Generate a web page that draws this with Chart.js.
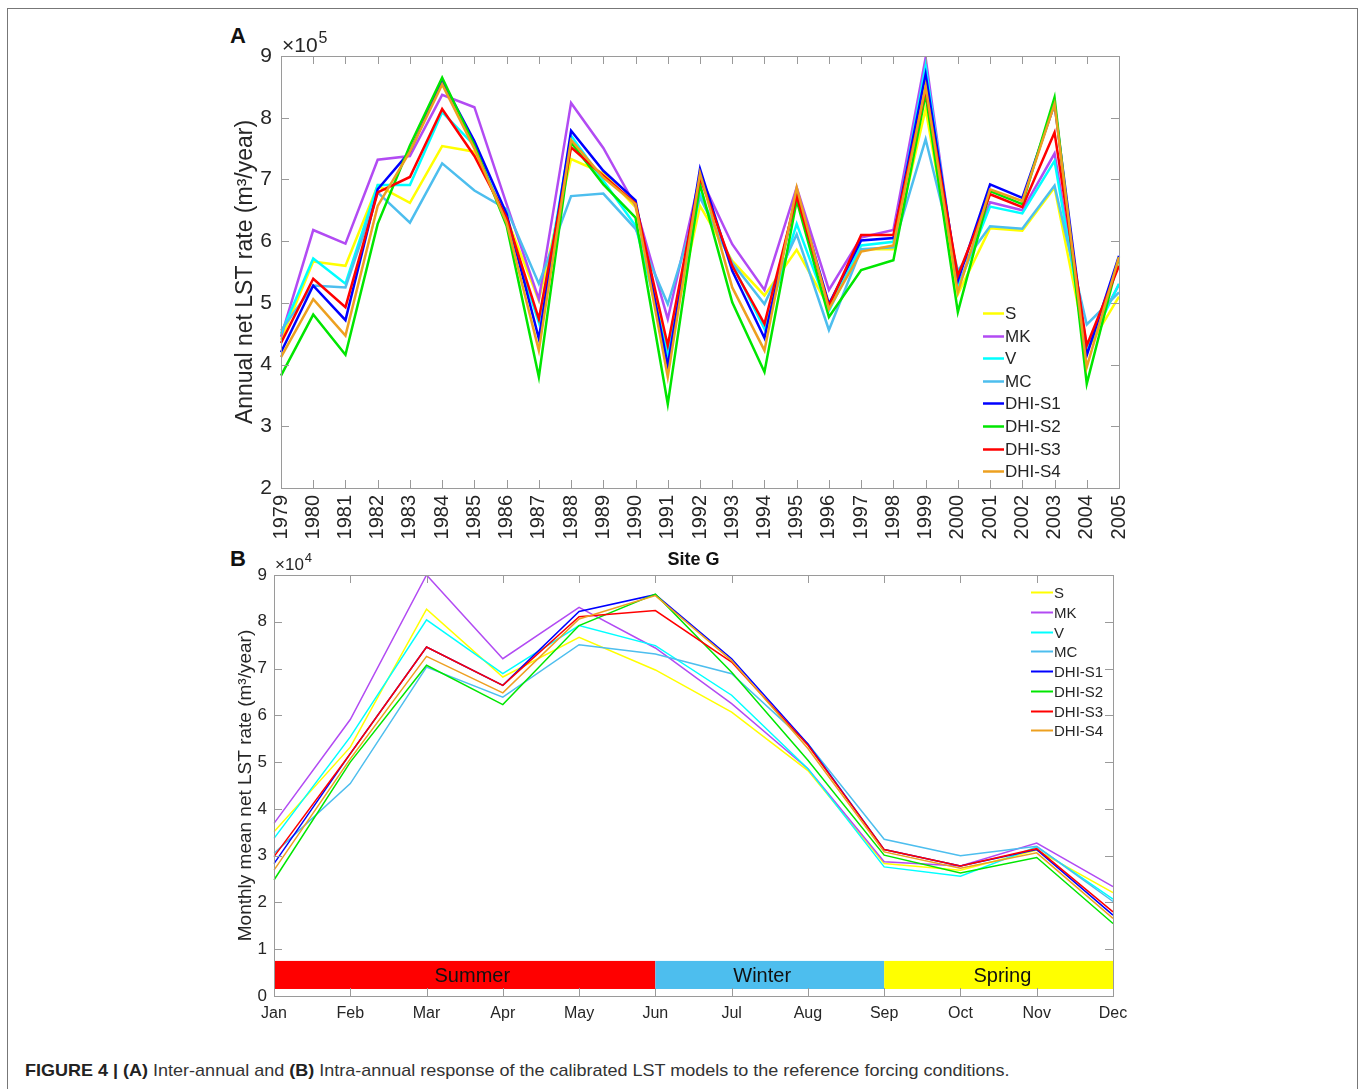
<!DOCTYPE html>
<html>
<head>
<meta charset="utf-8">
<title>Figure 4</title>
<script src="https://cdn.jsdelivr.net/npm/chart.js@4.4.0/dist/chart.umd.min.js"></script>
<style>
  body { margin: 0; background: #fff; width: 1360px; height: 1089px; overflow: hidden; position: relative;
         font-family: "Liberation Sans", Arial, sans-serif; }
  #frame { position: absolute; left: 7px; top: 8px; width: 1349px; height: 1110px; border: 1px solid #777; }
  canvas { position: absolute; }
  #chartA { left: 180px; top: 20px; }
  #chartB { left: 180px; top: 545px; }
  .panel { position: absolute; font-weight: bold; font-size: 22px; color: #111; }
  #caption { position: absolute; left: 25px; top: 1061px; font-size: 17px; color: #333; white-space: nowrap;
             font-family: "Liberation Sans Narrow", "Liberation Sans", Arial, sans-serif; transform-origin: 0 50%; }
  #caption b { color: #222; }
</style>
</head>
<body>
<div id="frame"></div>
<div class="panel" style="left:230px; top:23px;">A</div>
<div class="panel" style="left:230px; top:546px;">B</div>
<canvas id="chartA" width="960" height="540"></canvas>
<canvas id="chartB" width="960" height="505"></canvas>
<div id="caption"><b>FIGURE 4 | (A)</b> Inter-annual and <b>(B)</b> Intra-annual response of the calibrated LST models to the reference forcing conditions.</div>
<script>
const FONT = '"Liberation Sans", Arial, sans-serif';
const TEXT = '#262626';

const years = ['1979','1980','1981','1982','1983','1984','1985','1986','1987','1988','1989','1990','1991',
  '1992','1993','1994','1995','1996','1997','1998','1999','2000','2001','2002','2003','2004','2005'];
const months = ['Jan','Feb','Mar','Apr','May','Jun','Jul','Aug','Sep','Oct','Nov','Dec'];

const modelNames = ['S', 'MK', 'V', 'MC', 'DHI-S1', 'DHI-S2', 'DHI-S3', 'DHI-S4'];
const modelColors = ['#ffff00', '#b24bf3', '#00ffff', '#4dbeee', '#0000ff', '#00e600', '#ff0000', '#eda020'];

// (A) annual net LST rate, x10^5 m3/year
const annualS  = [4.40,5.67,5.60,6.90,6.62,7.54,7.45,6.38,5.04,7.33,7.10,6.55,4.17,6.57,5.68,5.12,5.86,4.93,5.87,5.87,8.14,5.14,6.21,6.17,6.87,4.23,5.10];
const annualMK = [4.45,6.18,5.96,7.32,7.38,8.37,8.17,6.60,5.06,8.24,7.51,6.57,4.74,7.05,5.95,5.21,6.87,5.21,6.06,6.18,8.97,5.25,6.63,6.50,7.42,4.30,5.30];
const annualV  = [4.50,5.72,5.31,6.91,6.91,8.09,7.55,6.30,4.68,7.71,6.98,6.25,4.17,6.76,5.63,4.58,6.28,4.87,5.93,5.99,8.84,5.25,6.56,6.45,7.30,4.23,5.31];
const annualMC = [4.55,5.28,5.25,6.79,6.30,7.26,6.82,6.52,5.31,6.73,6.77,6.20,4.98,6.71,5.65,4.98,6.11,4.56,5.87,5.90,7.65,5.52,6.24,6.20,6.90,4.65,5.17];
const annualS1 = [4.20,5.28,4.72,6.84,7.45,8.60,7.62,6.44,4.42,7.79,7.14,6.66,3.98,7.17,5.52,4.43,6.79,4.98,6.01,6.05,8.70,5.36,6.92,6.70,8.22,4.15,5.76];
const annualS2 = [3.82,4.81,4.16,6.28,7.55,8.65,7.55,6.25,3.80,7.60,6.92,6.38,3.36,6.92,5.01,3.88,6.66,4.77,5.53,5.69,8.38,4.85,6.81,6.60,8.33,3.69,5.74];
const annualS3 = [4.35,5.39,4.93,6.79,7.04,8.14,7.38,6.38,4.74,7.52,7.06,6.61,4.31,7.03,5.60,4.66,6.73,4.95,6.10,6.10,8.46,5.44,6.76,6.55,7.76,4.31,5.60];
const annualS4 = [4.12,5.06,4.47,6.57,7.45,8.54,7.50,6.30,4.23,7.64,7.03,6.60,3.80,7.10,5.25,4.23,6.87,4.90,5.83,5.93,8.51,5.17,6.84,6.65,8.22,3.96,5.74];

// (B) monthly mean net LST rate, x10^4 m3/year
const monthlyS  = [3.51,5.32,8.27,6.82,7.67,6.97,6.07,4.82,2.83,2.69,3.12,2.21];
const monthlyMK = [3.69,5.91,9.00,7.21,8.31,7.44,6.25,4.86,2.87,2.78,3.27,2.34];
const monthlyV  = [3.37,5.54,8.04,6.89,7.92,7.49,6.43,4.86,2.76,2.56,3.19,2.07];
const monthlyMC = [3.05,4.54,7.03,6.39,7.51,7.31,6.89,5.39,3.35,3.00,3.20,2.02];
const monthlyS1 = [2.83,5.18,7.46,6.64,8.22,8.58,7.21,5.39,3.13,2.78,3.13,1.73];
const monthlyS2 = [2.48,5.00,7.07,6.23,7.92,8.59,6.92,5.04,3.01,2.63,2.96,1.55];
const monthlyS3 = [2.98,5.18,7.46,6.64,8.11,8.24,7.14,5.36,3.13,2.78,3.15,1.80];
const monthlyS4 = [2.69,5.07,7.26,6.48,8.06,8.56,7.17,5.29,3.08,2.73,3.06,1.66];

// season bands along the bottom of (B)
const seasonNames  = ['Summer', 'Winter', 'Spring'];
const seasonStart  = ['Jan', 'Jun', 'Sep'];
const seasonEnd    = ['Jun', 'Sep', 'Dec'];
const seasonLabelAt = [2.6, 6.4, 9.55];   // month index where the text sits
const seasonColors = ['#ff0000', '#4dbeee', '#ffff00'];
const seasonLow = 0.15, seasonHigh = 0.75;

function makeDatasets(series, width) {
  return series.map((d, i) => ({
    label: modelNames[i],
    data: d,
    borderColor: modelColors[i],
    backgroundColor: modelColors[i],
    borderWidth: width,
    pointRadius: 0,
    tension: 0,
    order: series.length - i   // later series on top, like matlab
  }));
}

function drawExponent(ctx, x, y, exp, size) {
  ctx.fillStyle = TEXT;
  ctx.textAlign = 'left';
  ctx.textBaseline = 'alphabetic';
  ctx.font = size + 'px ' + FONT;
  ctx.fillText('\u00d710', x, y);
  const w = ctx.measureText('\u00d710').width;
  ctx.font = Math.round(size * 0.78) + 'px ' + FONT;
  ctx.fillText(exp, x + w + 1, y - size * 0.45);
}

// matlab-ish box: frame, inward ticks, labels, legend
const boxPlugin = {
  id: 'box',
  beforeDatasetsDraw(chart, args, o) {
    if (!o.seasons) return;
    const ctx = chart.ctx, x = chart.scales.x, y = chart.scales.y;
    ctx.save();
    seasonNames.forEach((name, i) => {
      const x0 = x.getPixelForValue(months.indexOf(seasonStart[i]));
      const x1 = x.getPixelForValue(months.indexOf(seasonEnd[i]));
      const y0 = y.getPixelForValue(seasonHigh);
      const y1 = y.getPixelForValue(seasonLow);
      ctx.fillStyle = seasonColors[i];
      ctx.fillRect(x0, y0, x1 - x0, y1 - y0);
      ctx.fillStyle = '#111';
      ctx.font = '20px ' + FONT;
      ctx.textAlign = 'center';
      ctx.textBaseline = 'middle';
      ctx.fillText(name, x.getPixelForValue(seasonLabelAt[i]), (y0 + y1) / 2 + 2);
    });
    ctx.restore();
  },
  afterDatasetsDraw(chart, args, o) {
    const ctx = chart.ctx, a = chart.chartArea;
    const xs = chart.scales.x, ys = chart.scales.y;
    ctx.save();
    ctx.strokeStyle = '#9a9a9a';
    ctx.lineWidth = 1;
    ctx.beginPath();
    xs.ticks.forEach((t, i) => {
      const px = Math.round(xs.getPixelForTick(i)) + 0.5;
      ctx.moveTo(px, a.bottom); ctx.lineTo(px, a.bottom - 8);
      ctx.moveTo(px, a.top); ctx.lineTo(px, a.top + 8);
    });
    ys.ticks.forEach(t => {
      const py = Math.round(ys.getPixelForValue(t.value)) + 0.5;
      ctx.moveTo(a.left, py); ctx.lineTo(a.left + 8, py);
      ctx.moveTo(a.right, py); ctx.lineTo(a.right - 8, py);
    });
    ctx.stroke();
    ctx.strokeRect(Math.round(a.left) + 0.5, Math.round(a.top) + 0.5, Math.round(a.right - a.left), Math.round(a.bottom - a.top));

    drawExponent(ctx, a.left + 1, a.top - o.expDy, o.exp, o.expSize);

    // y axis title
    ctx.fillStyle = TEXT;
    ctx.font = o.yTitleSize + 'px ' + FONT;
    ctx.textAlign = 'center';
    ctx.textBaseline = 'middle';
    ctx.save();
    ctx.translate(a.left - o.yTitleDx, (a.top + a.bottom) / 2);
    ctx.rotate(-Math.PI / 2);
    ctx.fillText(o.yTitle, 0, 0);
    ctx.restore();

    if (o.title) {
      ctx.font = 'bold 18px ' + FONT;
      ctx.fillStyle = '#111';
      ctx.fillText(o.title, (a.left + a.right) / 2, a.top - 15);
    }

    // legend
    const L = o.legend;
    ctx.font = L.size + 'px ' + FONT;
    ctx.textAlign = 'left';
    chart.data.datasets.forEach((ds, i) => {
      const ly = Math.round(a.top + L.y + i * L.dy) + 0.5;
      const lx = a.right - L.x;
      ctx.strokeStyle = ds.borderColor;
      ctx.lineWidth = L.lw;
      ctx.beginPath();
      ctx.moveTo(lx, ly); ctx.lineTo(lx + L.len, ly);
      ctx.stroke();
      ctx.fillStyle = TEXT;
      ctx.fillText(ds.label, lx + L.len + 1, ly + 1);
    });
    ctx.restore();
  }
};

function makeChart(id, labels, series, cfg) {
  const ctx = document.getElementById(id).getContext('2d');
  return new Chart(ctx, {
    type: 'line',
    data: { labels: labels, datasets: makeDatasets(series, cfg.lineWidth) },
    options: {
      responsive: false,
      animation: false,
      devicePixelRatio: 1,
      layout: { padding: cfg.padding },
      events: [],
      scales: {
        x: {
          type: 'category',
          offset: false,
          grid: { display: false, drawTicks: false },
          border: { display: false },
          ticks: {
            color: TEXT, font: { size: cfg.xFont, family: FONT },
            autoSkip: false, maxRotation: cfg.rot, minRotation: cfg.rot, padding: cfg.xPad
          },
          afterFit(scale) {
            scale.height = cfg.xHeight;
            scale.paddingLeft = 0;
            scale.paddingRight = 0;
          }
        },
        y: {
          min: cfg.yMin, max: cfg.yMax,
          grid: { display: false, drawTicks: false },
          border: { display: false },
          ticks: { stepSize: 1, color: TEXT, font: { size: cfg.yFont, family: FONT }, padding: cfg.yPad },
          afterFit(scale) {
            scale.width = cfg.yWidth;
            scale.paddingTop = 0;
            scale.paddingBottom = 0;
          }
        }
      },
      plugins: {
        legend: { display: false },
        tooltip: { enabled: false },
        box: cfg.box
      }
    },
    plugins: [boxPlugin]
  });
}

makeChart('chartA', years,
  [annualS, annualMK, annualV, annualMC, annualS1, annualS2, annualS3, annualS4], {
    lineWidth: 2.5, padding: { top: 36, right: 21, left: 0, bottom: 0 },
    xHeight: 72, yWidth: 101, xFont: 20, yFont: 21, rot: 90, xPad: 7, yPad: 9,
    yMin: 2, yMax: 9,
    box: {
      exp: '5', expSize: 21, expDy: 4,
      yTitle: 'Annual net LST rate (m\u00b3/year)', yTitleSize: 23, yTitleDx: 35,
      legend: { x: 136, y: 257, dy: 22.6, len: 21, size: 17, lw: 2.5 }
    }
  });

makeChart('chartB', months,
  [monthlyS, monthlyMK, monthlyV, monthlyMC, monthlyS1, monthlyS2, monthlyS3, monthlyS4], {
    lineWidth: 1.5, padding: { top: 30, right: 27, left: 0, bottom: 0 },
    xHeight: 54, yWidth: 94, xFont: 16, yFont: 17, rot: 0, xPad: 8, yPad: 7,
    yMin: 0, yMax: 9,
    box: {
      seasons: true,
      exp: '4', expSize: 17, expDy: 5,
      yTitle: 'Monthly mean net LST rate (m\u00b3/year)', yTitleSize: 19, yTitleDx: 28,
      title: 'Site G',
      legend: { x: 82, y: 17, dy: 19.76, len: 22, size: 15, lw: 2 }
    }
  });

// squeeze caption to the width it has in the figure
const cap = document.getElementById('caption');
cap.style.transform = 'scaleX(' + (985 / cap.offsetWidth) + ')';
</script>
</body>
</html>
